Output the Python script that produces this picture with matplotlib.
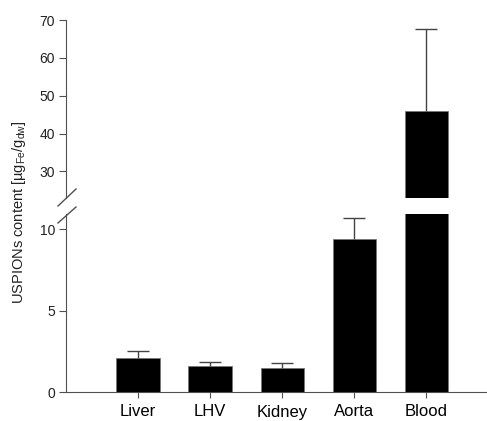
import matplotlib
matplotlib.use("Agg")
import matplotlib.pyplot as plt
from matplotlib.lines import Line2D

plt.rcParams['font.family'] = ['Liberation Sans', 'DejaVu Sans']
plt.rcParams['mathtext.fontset'] = 'custom'
plt.rcParams['mathtext.rm'] = 'Liberation Sans'

# data
organs = ["Liver", "LHV", "Kidney", "Aorta", "Blood"]
content = [2.12, 1.60, 1.50, 9.40, 45.9]
sd = [0.38, 0.27, 0.31, 1.28, 21.7]

low_ticks = [0, 5, 10]
high_ticks = [30, 40, 50, 60, 70]

W, H = 487, 421
fig = plt.figure(figsize=(W / 100, H / 100), dpi=100)

def px_box(x0, y0, x1, y1):
    # pixel box (top-left origin) -> figure fraction rect
    return [x0 / W, 1 - y1 / H, (x1 - x0) / W, (y1 - y0) / H]

ax_lo = fig.add_axes(px_box(66, 214, 486, 392))
ax_hi = fig.add_axes(px_box(66, 20, 486, 197.5))

xs = list(range(len(organs)))
spine_col = "#505050"
for ax in (ax_lo, ax_hi):
    ax.bar(xs, content, width=0.6, color="black", edgecolor="#777777", linewidth=0.6)
    # only the upper half of the error bar, as in the original
    _, caps, _ = ax.errorbar(xs, content, yerr=[[0] * len(sd), sd], fmt="none",
                             ecolor="#444444", elinewidth=1.0, capsize=8, capthick=1.0)
    caps[0].set_visible(False)
    ax.set_xlim(-1, 4.83)
    for s in ("top", "right"):
        ax.spines[s].set_visible(False)
    ax.spines["left"].set_color(spine_col)
    ax.tick_params(axis="y", direction="out", length=5, color=spine_col,
                   labelsize=10, labelcolor="#222222", pad=3)

ax_lo.set_ylim(0, 10.95)
ax_lo.set_yticks(low_ticks)
ax_lo.spines["bottom"].set_color(spine_col)
ax_lo.set_xticks(xs)
ax_lo.set_xticklabels(organs, fontsize=12)
ax_lo.tick_params(axis="x", direction="out", length=4, color=spine_col, pad=5)

ax_hi.set_ylim(23.1, 70)
ax_hi.set_yticks(high_ticks)
ax_hi.spines["bottom"].set_visible(False)
ax_hi.set_xticks([])

# break marks on the y axis
for (x0, y0, x1, y1) in [(58, 206, 76, 189), (58, 223, 76, 207)]:
    fig.add_artist(Line2D([x0 / W, x1 / W], [1 - y0 / H, 1 - y1 / H],
                          color=spine_col, lw=1.0))

fig.text(19 / W, 1 - 212 / H, "USPIONs content [µg$_{\\mathrm{Fe}}$/g$_{\\mathrm{dw}}$]",
         rotation=90, ha="center", va="center", fontsize=10.5, color="#222222")

plt.savefig("out.png", dpi=100)
